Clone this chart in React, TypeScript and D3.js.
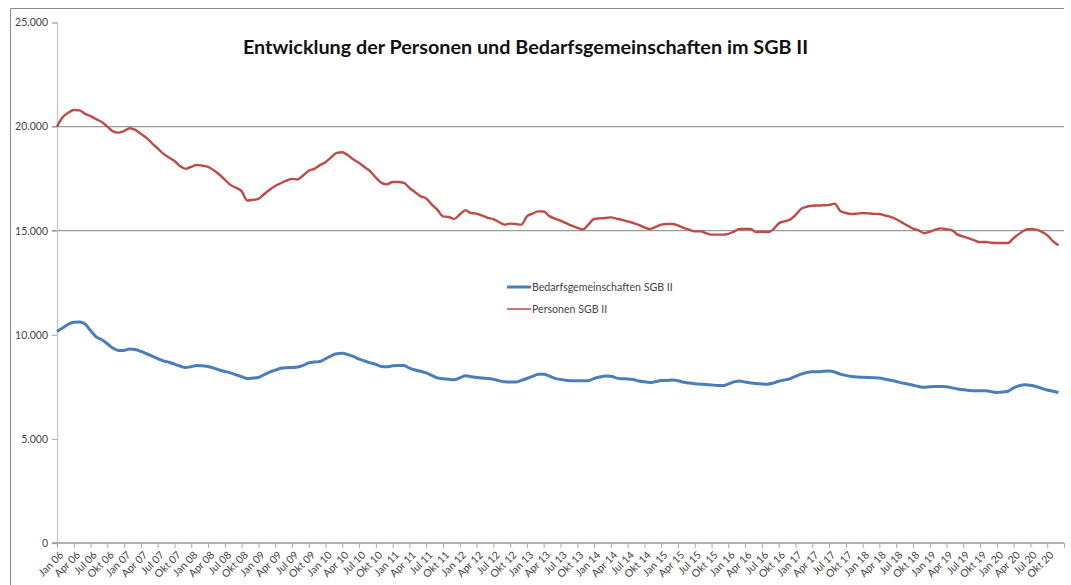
import { useEffect, useRef } from 'react';
import * as d3 from 'd3';

// Monatswerte Jan 2006 – Dez 2020
const years = ['06', '07', '08', '09', '10', '11', '12', '13', '14', '15', '16', '17', '18', '19', '20'];
const tickMonths = ['Jan', 'Apr', 'Jul', 'Okt'];
const yTicks = [0, 5000, 10000, 15000, 20000, 25000];
const gridTicks = [15000, 20000];

const personen = [
  20000, 20450, 20660, 20800, 20780, 20620, 20500, 20360, 20220, 20000, 19770, 19710,
  19790, 19920, 19840, 19650, 19460, 19200, 18950, 18700, 18520, 18350, 18100, 17970,
  18070, 18160, 18120, 18070, 17900, 17700, 17450, 17200, 17060, 16900, 16450, 16480,
  16530, 16750, 16970, 17150, 17280, 17400, 17490, 17460, 17650, 17880, 17970, 18150,
  18290, 18520, 18740, 18770, 18620, 18420, 18250, 18050, 17850, 17550, 17300, 17230,
  17340, 17340, 17300, 17050, 16850, 16650, 16550, 16250, 16000, 15690, 15660, 15570,
  15780, 15980, 15850, 15820, 15720, 15620, 15560, 15420, 15290, 15340, 15320, 15290,
  15690, 15820, 15930, 15920, 15700, 15580, 15480, 15360, 15240, 15140, 15060, 15300,
  15560, 15590, 15610, 15640, 15580, 15520, 15450, 15370, 15280, 15160, 15080, 15180,
  15290, 15320, 15320, 15250, 15140, 15050, 14970, 14970, 14880, 14810, 14810, 14810,
  14850, 14960, 15080, 15080, 15080, 14930, 14950, 14930, 15050, 15350, 15450, 15530,
  15750, 16050, 16150, 16200, 16210, 16220, 16240, 16300, 15950, 15850, 15800, 15820,
  15850, 15830, 15810, 15800, 15730, 15660, 15550, 15400, 15250, 15100, 15020, 14880,
  14950, 15050, 15110, 15070, 15020, 14810, 14720, 14630, 14540, 14450, 14460, 14420,
  14410, 14410, 14410, 14650, 14850, 15030, 15080, 15050, 14950, 14780, 14500, 14300,
];

const bedarfsgemeinschaften = [
  10160, 10330, 10500, 10600, 10610, 10520, 10200, 9900, 9760, 9570, 9360, 9250,
  9250, 9320, 9290, 9200, 9090, 8980, 8860, 8750, 8680, 8590, 8500, 8430,
  8470, 8530, 8510, 8480, 8400, 8310, 8240, 8170, 8080, 7990, 7900, 7920,
  7950, 8080, 8210, 8300, 8390, 8420, 8430, 8450, 8530, 8650, 8690, 8720,
  8850, 8990, 9090, 9110, 9050, 8960, 8830, 8740, 8650, 8580, 8480, 8460,
  8510, 8530, 8530, 8400, 8310, 8250, 8170, 8050, 7930, 7890, 7860, 7840,
  7930, 8030, 7990, 7950, 7920, 7900, 7860, 7800, 7740, 7730, 7730, 7810,
  7900, 8000, 8110, 8110, 8020, 7910, 7860, 7820, 7790, 7790, 7790, 7790,
  7900, 7970, 8020, 8010, 7920, 7890, 7880, 7850, 7780, 7740, 7710, 7750,
  7800, 7810, 7830, 7790, 7720, 7680, 7650, 7630, 7610, 7590, 7570, 7560,
  7640, 7740, 7780, 7730, 7690, 7660, 7640, 7630, 7680, 7770, 7830, 7890,
  8000, 8110, 8190, 8230, 8220, 8250, 8260, 8210, 8110, 8050, 8000, 7970,
  7960, 7950, 7940, 7920, 7870, 7820, 7760, 7690, 7640, 7580, 7520, 7480,
  7510, 7520, 7520, 7510, 7450, 7400, 7360, 7330, 7310, 7310, 7310, 7270,
  7230, 7250, 7290, 7450, 7550, 7600, 7580, 7520, 7430, 7350, 7290, 7230,
];

const series = [
  { name: 'Bedarfsgemeinschaften SGB II', values: bedarfsgemeinschaften, color: '#4a7ebb', width: 3 },
  { name: 'Personen SGB II', values: personen, color: '#be4b48', width: 2.4 },
];

const font = 'Lato, "Liberation Sans", sans-serif';

export default function App() {
  const ref = useRef<SVGSVGElement>(null);

  useEffect(() => {
    const W = 1071;
    const H = 585;
    const svg = d3.select(ref.current).attr('width', W).attr('height', H);
    svg.selectAll('*').remove();

    svg.append('rect').attr('width', W).attr('height', H).attr('fill', '#fff');

    // Rahmen (oben und links)
    svg.append('line').attr('x1', 10.5).attr('x2', 1064).attr('y1', 8.5).attr('y2', 8.5).attr('stroke', '#8c8c8c');
    svg.append('line').attr('x1', 10.5).attr('x2', 10.5).attr('y1', 8.5).attr('y2', H).attr('stroke', '#8c8c8c');

    const x = d3.scaleLinear().domain([0, 180]).range([57, 1064]);
    const y = d3.scaleLinear().domain([0, 25000]).range([543, 22.5]);

    // Gitterlinien
    svg
      .append('g')
      .selectAll('line')
      .data(gridTicks)
      .join('line')
      .attr('x1', 52)
      .attr('x2', 1064)
      .attr('y1', (d) => y(d))
      .attr('y2', (d) => y(d))
      .attr('stroke', '#9a9a9a')
      .attr('stroke-width', 1.3);

    // Y-Achse
    const yAxis = svg
      .append('g')
      .attr('transform', 'translate(57,0)')
      .call(
        d3
          .axisLeft(y)
          .tickValues(yTicks)
          .tickSize(5)
          .tickPadding(4)
          .tickFormat((d) => d3.format(',')(d as number).replace(/,/g, '.'))
      );
    yAxis.select('.domain').attr('stroke', '#c8c8c8').attr('stroke-width', 1.3);
    yAxis.selectAll('.tick line').attr('stroke', '#aaa');
    yAxis.selectAll('text').attr('font-family', font).attr('font-size', 10.5).attr('fill', '#444');

    // X-Achse
    const tickIdx = d3.range(0, 180, 3);
    const label = (i: number) => `${tickMonths[(i % 12) / 3]} ${years[Math.floor(i / 12)]}`;
    const xAxis = svg
      .append('g')
      .attr('transform', 'translate(0,543)')
      .call(
        d3
          .axisBottom(x)
          .tickValues([...tickIdx, 180])
          .tickSize(5)
          .tickSizeOuter(0)
          .tickFormat((d) => ((d as number) < 180 ? label(d as number) : ''))
      );
    xAxis.select('.domain').attr('stroke', '#9a9a9a').attr('stroke-width', 1.3).attr('d', 'M52,0H1064');
    xAxis.selectAll('.tick line').attr('stroke', '#aaa');
    xAxis
      .selectAll('text')
      .attr('font-family', font)
      .attr('font-size', 10.5)
      .attr('fill', '#444')
      .attr('text-anchor', 'end')
      .attr('dy', '0.35em')
      .attr('transform', 'translate(4,10) rotate(-45)')
      .attr('y', 0)
      .attr('x', 0);

    // Linien
    const line = d3
      .line<number>()
      .x((_, i) => x(i))
      .y((d) => y(d))
      .curve(d3.curveMonotoneX);

    series.forEach((s) => {
      svg
        .append('path')
        .datum(s.values)
        .attr('d', line)
        .attr('fill', 'none')
        .attr('stroke', s.color)
        .attr('stroke-width', s.width)
        .attr('stroke-linejoin', 'round');
    });

    // Legende
    const legend = svg.append('g').attr('transform', 'translate(507,287)');
    series.forEach((s, i) => {
      const g = legend.append('g').attr('transform', `translate(0,${i * 22})`);
      g.append('line').attr('x1', 0).attr('x2', 24).attr('stroke', s.color).attr('stroke-width', i === 0 ? 3 : 1.5);
      g.append('text')
        .attr('x', 25)
        .attr('dy', '0.35em')
        .text(s.name)
        .attr('font-family', font)
        .attr('font-size', 10.6)
        .attr('fill', '#444');
    });

    // Titel
    svg
      .append('text')
      .attr('x', 525.5)
      .attr('y', 54)
      .attr('text-anchor', 'middle')
      .attr('font-family', font)
      .attr('font-weight', 'bold')
      .attr('font-size', 19.8)
      .attr('fill', '#111')
      .text('Entwicklung der Personen und Bedarfsgemeinschaften im SGB II');
  }, []);

  return <svg ref={ref} style={{ position: 'absolute', left: 0, top: 0, display: 'block' }} />;
}
